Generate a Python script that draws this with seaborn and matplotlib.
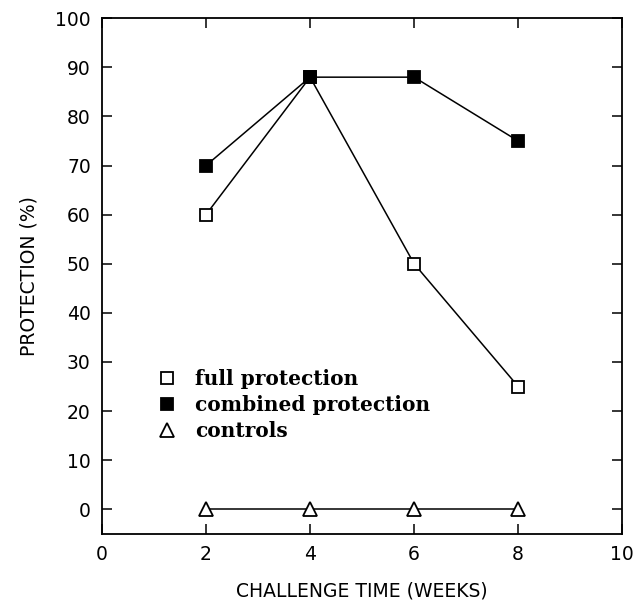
import numpy as np
import pandas as pd
import matplotlib
matplotlib.use('Agg')
import matplotlib.pyplot as plt
import seaborn as sns

weeks = [2, 4, 6, 8]
full_protection = [60, 88, 50, 25]
combined_protection = [70, 88, 88, 75]
controls = [0, 0, 0, 0]

sns.set_style('ticks')
plt.rcParams['font.family'] = ['DejaVu Sans']
plt.rcParams['text.color'] = 'black'
plt.rcParams['axes.labelcolor'] = 'black'

fig = plt.figure(figsize=(6.33, 6.08), dpi=100)
ax = fig.add_axes([0.161, 0.122, 0.822, 0.848])

series = [
    ('full protection', full_protection, 's', 'white'),
    ('combined protection', combined_protection, 's', 'black'),
    ('controls', controls, '^', 'white'),
]
for name, vals, mk, face in series:
    df = pd.DataFrame({'week': weeks, 'value': vals})
    sns.lineplot(data=df, x='week', y='value', ax=ax, color='black', lw=1.1,
                 marker=mk, markersize=9 if mk == 's' else 10,
                 markerfacecolor=face, markeredgecolor='black',
                 markeredgewidth=1.3, label=name)

ax.set_xlim(0, 10)
ax.set_ylim(-5, 100)
ax.set_xticks([0, 2, 4, 6, 8, 10])
ax.set_yticks(np.arange(0, 101, 10))
ax.tick_params(direction='in', length=7, width=1.1, top=True, right=True,
               labelsize=13.5, colors='black', pad=8)
for s in ax.spines.values():
    s.set_linewidth(1.3)
    s.set_color('black')

ax.set_xlabel('CHALLENGE TIME (WEEKS)', fontsize=13.5, labelpad=13)
ax.set_ylabel('PROTECTION (%)', fontsize=13.5, labelpad=12)

leg = ax.legend(loc='upper left', bbox_to_anchor=(0.09, 0.335), frameon=False,
                handlelength=1.0, handletextpad=0.9, labelspacing=0.3,
                borderaxespad=0,
                prop={'family': 'DejaVu Serif', 'weight': 'bold', 'size': 14.5})
for line in leg.get_lines():
    line.set_linestyle('none')
for t in leg.get_texts():
    t.set_color('black')

fig.savefig('out.png', dpi=100)
